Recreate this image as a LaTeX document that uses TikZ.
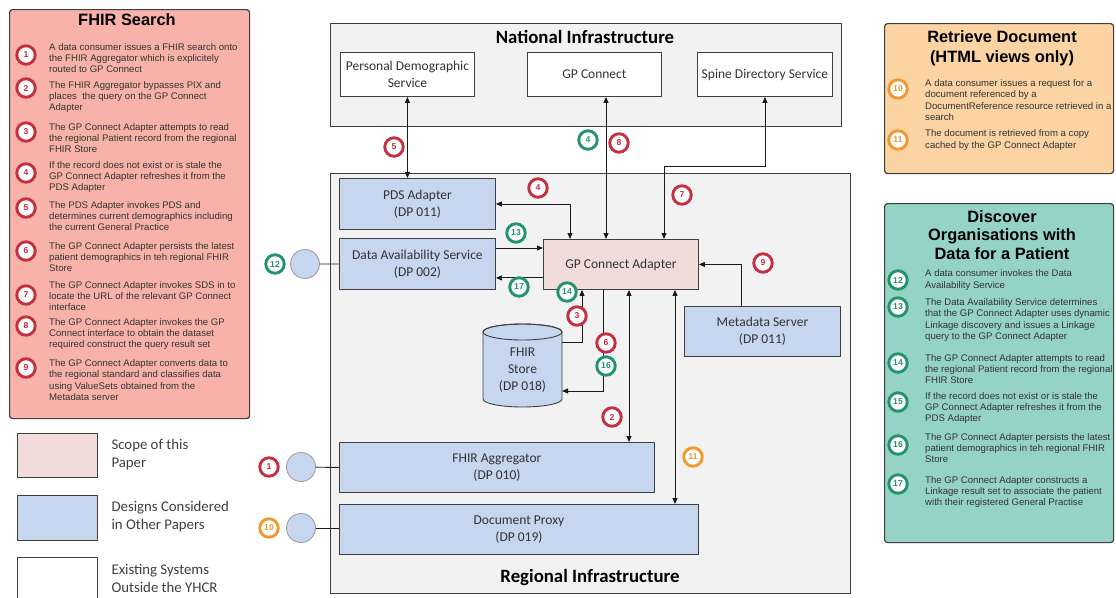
\documentclass[tikz,border=0pt]{standalone}
\usepackage{fontspec}
\setmainfont{Liberation Sans}
\newfontfamily\carl{Carlito}
\usetikzlibrary{arrows.meta,calc}
\definecolor{bred}{HTML}{C62F3F}
\definecolor{bgreen}{HTML}{23936E}
\definecolor{borange}{HTML}{EE9A2E}
\definecolor{pfhir}{HTML}{F8B2AA}
\definecolor{pret}{HTML}{FCD3A2}
\definecolor{pdisc}{HTML}{94D3C6}
\definecolor{gbox}{HTML}{F2F2F2}
\definecolor{bluebox}{HTML}{C5D6EE}
\definecolor{pinkbox}{HTML}{F2DCDA}
\definecolor{edgec}{HTML}{3F3F3F}
\definecolor{txt}{HTML}{333333}
\definecolor{linec}{HTML}{1A1A1A}
\begin{document}
\begin{tikzpicture}[x=1pt,y=-1pt,
  badge/.style={circle, draw=#1, line width=2.9pt, fill=white, minimum size=18.5pt, inner sep=0pt, text=#1, font=\bfseries\fontsize{8.6}{8.6}\selectfont},
  pitem/.style={anchor=west, align=left, inner sep=0pt, font=\fontsize{9.6}{11.3}\selectfont, text=txt},
  panel/.style={draw=edgec, line width=1.2pt, rounded corners=3pt, fill=#1, anchor=north west, inner sep=0pt},
  ptitle/.style={align=center, font=\bfseries\fontsize{16.4}{20}\selectfont, text=black},
  box/.style={draw=edgec, line width=0.9pt, fill=#1, anchor=north west, inner sep=0pt},
  btext/.style={align=center, font=\carl\fontsize{13.5}{17}\selectfont, text=txt},
  ctitle/.style={font=\carl\bfseries\fontsize{18.8}{22}\selectfont, text=black},
  conn/.style={line width=0.9pt, draw=linec},
  ar/.style={conn, -{Triangle[length=6pt,width=5pt]}},
  dar/.style={conn, {Triangle[length=6pt,width=5pt]}-{Triangle[length=6pt,width=5pt]}},
  cons/.style={circle, draw=gray!80, line width=0.8pt, fill=bluebox, minimum size=29pt, inner sep=0pt},
  legtext/.style={anchor=west, align=left, font=\carl\fontsize{14.8}{18}\selectfont, text=edgec}
]
\useasboundingbox (0,0) rectangle (1116,597);
\clip (0,0) rectangle (1116,597);

% ---------- FHIR Search panel ----------
\node[panel=pfhir, minimum width=240pt, minimum height=409pt] (fhirpanel) at (9,9) {};
\node[ptitle] (fhirtitle) at (127,20) {FHIR Search};
\node[badge=bred] (p1) at (26,55) {1};
\node[pitem] (t1) at (49,58) {A data consumer issues a FHIR search onto\\the FHIR Aggregator which is explicitely\\routed to GP Connect};
\node[badge=bred] (p2) at (26,88) {2};
\node[pitem] (t2) at (49,97) {The FHIR Aggregator bypasses PIX and\\places\ \ the query on the GP Connect\\Adapter};
\node[badge=bred] (p3) at (26,132) {3};
\node[pitem] (t3) at (49,138) {The GP Connect Adapter attempts to read\\the regional Patient record from the regional\\FHIR Store};
\node[badge=bred] (p4) at (26,173) {4};
\node[pitem] (t4) at (49,177) {If the record does not exist or is stale the\\GP Connect Adapter refreshes it from the\\PDS Adapter};
\node[badge=bred] (p5) at (26,208) {5};
\node[pitem] (t5) at (49,216) {The PDS Adapter invokes PDS and\\determines current demographics including\\the current General Practice};
\node[badge=bred] (p6) at (26,251) {6};
\node[pitem] (t6) at (49,257) {The GP Connect Adapter persists the latest\\patient demographics in teh regional FHIR\\Store};
\node[badge=bred] (p7) at (26,295) {7};
\node[pitem] (t7) at (49,296) {The GP Connect Adapter invokes SDS in to\\locate the URL of the relevant GP Connect\\interface};
\node[badge=bred] (p8) at (26,326) {8};
\node[pitem] (t8) at (49,334) {The GP Connect Adapter invokes the GP\\Connect interface to obtain the dataset\\required construct the query result set};
\node[badge=bred] (p9) at (26,368) {9};
\node[pitem] (t9) at (49,380) {The GP Connect Adapter converts data to\\the regional standard and classifies data\\using ValueSets obtained from the\\Metadata server};

% ---------- Legend ----------
\node[box=pinkbox, minimum width=80pt, minimum height=44pt] (leg1) at (17,433) {};
\node[legtext] (legt1) at (108,455) {Scope of this\\Paper};
\node[box=bluebox, minimum width=80pt, minimum height=45pt] (leg2) at (17,495) {};
\node[legtext] (legt2) at (108,517) {Designs Considered\\in Other Papers};
\node[box=white, minimum width=80pt, minimum height=50pt] (leg3) at (17,557) {};
\node[legtext] (legt3) at (108,578) {Existing Systems\\Outside the YHCR};

% ---------- Retrieve Document panel ----------
\node[panel=pret, minimum width=229pt, minimum height=150pt] (retpanel) at (884,23) {};
\node[ptitle] (rettitle) at (1002,48) {Retrieve Document\\(HTML views only)};
\node[badge=borange] (p10) at (898,89) {10};
\node[pitem] (t10) at (925,100) {A data consumer issues a request for a\\document referenced by a\\DocumentReference resource retrieved in a\\search};
\node[badge=borange] (p11) at (898,140) {11};
\node[pitem] (t11) at (925,140) {The document is retrieved from a copy\\cached by the GP Connect Adapter};

% ---------- Discover panel ----------
\node[panel=pdisc, minimum width=229pt, minimum height=339pt] (discpanel) at (884,203) {};
\node[ptitle, font=\bfseries\fontsize{16.4}{18.8}\selectfont] (disctitle) at (1002,235) {Discover\\Organisations with\\Data for a Patient};
\node[badge=bgreen] (p12) at (898,280) {12};
\node[pitem] (t12) at (925,280) {A data consumer invokes the Data\\Availability Service};
\node[badge=bgreen] (p13) at (898,307) {13};
\node[pitem] (t13) at (925,320) {The Data Availability Service determines\\that the GP Connect Adapter uses dynamic\\Linkage discovery and issues a Linkage\\query to the GP Connect Adapter};
\node[badge=bgreen] (p14) at (898,363) {14};
\node[pitem] (t14) at (925,369) {The GP Connect Adapter attempts to read\\the regional Patient record from the regional\\FHIR Store};
\node[badge=bgreen] (p15) at (898,402) {15};
\node[pitem] (t15) at (925,408) {If the record does not exist or is stale the\\GP Connect Adapter refreshes it from the\\PDS Adapter};
\node[badge=bgreen] (p16) at (898,445) {16};
\node[pitem] (t16) at (925,448) {The GP Connect Adapter persists the latest\\patient demographics in teh regional FHIR\\Store};
\node[badge=bgreen] (p17) at (898,484) {17};
\node[pitem] (t17) at (925,492) {The GP Connect Adapter constructs a\\Linkage result set to associate the patient\\with their registered General Practise};

% ---------- National Infrastructure ----------
\node[box=gbox, minimum width=511pt, minimum height=103pt] (natl) at (330,23) {};
\node[ctitle] (natltitle) at (585,37) {National Infrastructure};
\node[box=white, minimum width=134pt, minimum height=44pt] (pds) at (340,52) {};
\node[btext] at (pds.center) {Personal Demographic\\Service};
\node[box=white, minimum width=134pt, minimum height=44pt] (gpc) at (527,52) {};
\node[btext] at (gpc.center) {GP Connect};
\node[box=white, minimum width=135pt, minimum height=44pt] (sds) at (697,52) {};
\node[btext] at (sds.center) {Spine Directory Service};

% ---------- Regional Infrastructure ----------
\node[box=gbox, minimum width=520pt, minimum height=420pt] (regl) at (330,173) {};
\node[ctitle] (regltitle) at (590,577) {Regional Infrastructure};
\node[box=bluebox, minimum width=156pt, minimum height=51pt] (pdsa) at (339,178) {};
\node[btext] at (pdsa.center) {PDS Adapter\\(DP 011)};
\node[box=bluebox, minimum width=156pt, minimum height=51pt] (das) at (339,238) {};
\node[btext] at (das.center) {Data Availability Service\\(DP 002)};
\node[box=pinkbox, minimum width=155pt, minimum height=50pt] (gpca) at (543,239) {};
\node[btext] at (gpca.center) {GP Connect Adapter};
\node[box=bluebox, minimum width=156pt, minimum height=50pt] (meta) at (684,306) {};
\node[btext] at (meta.center) {Metadata Server\\(DP 011)};
\node[box=bluebox, minimum width=315pt, minimum height=50pt] (agg) at (339,442) {};
\node[btext] at (agg.center) {FHIR Aggregator\\(DP 010)};
\node[box=bluebox, minimum width=359pt, minimum height=50pt] (dp) at (339,504) {};
\node[btext] at (dp.center) {Document Proxy\\(DP 019)};

% FHIR store cylinder
\draw[draw=edgec, line width=0.9pt, fill=bluebox]
  (483,332) -- (483,399) arc[start angle=180, end angle=360, x radius=39.5pt, y radius=8pt]
  -- (562,332) arc[start angle=0, end angle=180, x radius=39.5pt, y radius=8pt] -- cycle;
\draw[draw=edgec, line width=0.9pt] (522.5,332) ellipse[x radius=39.5pt, y radius=8pt];
\node[btext] (store) at (522.5,370) {FHIR\\Store\\(DP 018)};
\coordinate (storeA) at (562,342);
\coordinate (storeB) at (562,391);

% consumer circles
\node[cons] (c12) at (305,264) {};
\node[cons] (c1) at (301,467) {};
\node[cons] (c10) at (301,528) {};
\draw[conn] (c12) -- (das.west);
\draw[conn] (c1) -- (agg.west);
\draw[conn] (c10) -- (dp.west |- c10);

% ---------- connectors ----------
\draw[dar] (pds.south) -- (pdsa.north -| pds.south);
\coordinate (gpcx) at ($(gpca.north west)+(63,0)$);
\draw[dar] (gpcx) -- (gpcx |- gpc.south);
\coordinate (sdsbend) at (664,166);
\draw[dar] (sds.south) |- (sdsbend) -- (sdsbend |- gpca.north);
\coordinate (pdsx) at ($(gpca.north west)+(27,0)$);
\draw[dar] (pdsa.east) -| (pdsx);
\draw[ar] ([yshift=-10pt]das.north east) -- ([yshift=-10pt]das.north east -| gpca.west);
\draw[ar] ([yshift=12pt]gpca.south west) -- ([yshift=12pt]gpca.south west -| das.east);
\coordinate (s3x) at ($(gpca.south west)+(39,0)$);
\draw[ar] (storeA) -| (s3x);
\coordinate (s6x) at ($(gpca.south west)+(60,0)$);
\draw[ar] (s6x) |- (storeB);
\coordinate (aggx) at ($(gpca.south west)+(86,0)$);
\draw[dar] (aggx) -- (aggx |- agg.north);
\coordinate (dpx) at ($(gpca.south west)+(132,0)$);
\draw[dar] (dpx) -- (dpx |- dp.north);
\coordinate (metax) at ($(meta.north)+(-21,0)$);
\draw[ar] (metax) |- (gpca.east);

% ---------- diagram badges ----------
\node[badge=bred] (b5) at (394,147) {5};
\node[badge=bgreen] (b4g) at (588,140) {4};
\node[badge=bred] (b8) at (619,143) {8};
\node[badge=bred] (b4) at (538,188) {4};
\node[badge=bred] (b7) at (682,195) {7};
\node[badge=bgreen] (b13) at (516,233) {13};
\node[badge=bgreen] (b17) at (519,287) {17};
\node[badge=bgreen] (b14) at (567,292) {14};
\node[badge=bred] (b3) at (577,316) {3};
\node[badge=bred] (b6) at (606,343) {6};
\node[badge=bgreen] (b16) at (606,366) {16};
\node[badge=bred] (b9) at (763,263) {9};
\node[badge=bred] (b2) at (612,417) {2};
\node[badge=borange] (b11) at (693,457) {11};
\node[badge=bred] (b1) at (269,467) {1};
\node[badge=borange] (b10) at (269,528) {10};
\node[badge=bgreen] (b12) at (275,264) {12};
\end{tikzpicture}
\end{document}
